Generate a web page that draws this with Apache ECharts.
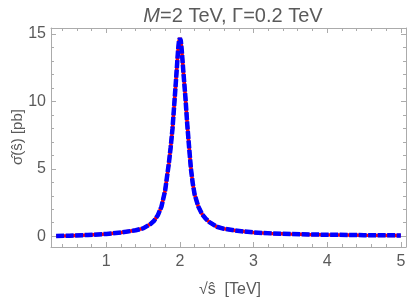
<!DOCTYPE html>
<html>
<head>
<meta charset="utf-8">
<script src="https://cdn.jsdelivr.net/npm/echarts@6/dist/echarts.min.js"></script>
<style>html,body{margin:0;padding:0;background:#fff;}#c{width:409px;height:303px;}</style>
</head>
<body>
<div id="c"></div>
<script>
// sqrt(s-hat) in TeV
const sqrtS = [0.32,0.5,0.75,1.0,1.2,1.4,1.5,1.6,1.65,1.7,1.75,1.8,1.825,1.85,1.875,1.9,1.925,1.95,1.975,1.9875,2.0,2.0125,2.025,2.05,2.075,2.1,2.125,2.15,2.175,2.2,2.25,2.3,2.35,2.4,2.5,2.6,2.75,3.0,3.25,3.5,3.75,4.0,4.5,5.0];
// sigma-hat in pb (red solid and blue dashed curves coincide)
const sigmaRed = [0.02,0.04,0.09,0.17,0.27,0.44,0.58,0.9,1.15,1.55,2.2,3.4,4.4,5.4,6.6,8.0,9.9,11.8,13.8,14.5,14.7,14.5,13.8,12.0,10.3,8.3,6.6,5.0,3.9,3.1,2.2,1.65,1.3,1.05,0.7,0.55,0.42,0.28,0.21,0.16,0.13,0.11,0.08,0.06];
const sigmaBlue = [0.02,0.04,0.09,0.17,0.27,0.44,0.58,0.9,1.15,1.55,2.2,3.4,4.4,5.4,6.6,8.0,9.9,11.8,13.8,14.5,14.7,14.5,13.8,12.0,10.3,8.3,6.6,5.0,3.9,3.1,2.2,1.65,1.3,1.05,0.7,0.55,0.42,0.28,0.21,0.16,0.13,0.11,0.08,0.06];
const xMajor = [1,2,3,4,5];
const xMinor = [0.4,0.6,0.8,1.2,1.4,1.6,1.8,2.2,2.4,2.6,2.8,3.2,3.4,3.6,3.8,4.2,4.4,4.6,4.8];
const yMajor = [0,5,10,15];
const yMinor = [1,2,3,4,6,7,8,9,11,12,13,14];

const X_MIN = 0.25, X_MAX = 5.07, Y_MIN = -0.8, Y_MAX = 15.45;
const FRAME = '#ababab';
const LABEL = '#5a5a5a';
const FONT = 'Liberation Sans';

function xAx(pos, ticks, len, showLine, showLabel) {
  return {
    type: 'value', position: pos, min: X_MIN, max: X_MAX,
    axisLine: {show: showLine, onZero: false, lineStyle: {color: FRAME, width: 1}},
    axisTick: {show: true, inside: true, length: len, customValues: ticks, lineStyle: {color: FRAME, width: 1}},
    axisLabel: {show: showLabel, customValues: ticks, color: LABEL, fontSize: 16, fontFamily: FONT, margin: 7},
    splitLine: {show: false}
  };
}
function yAx(pos, ticks, len, showLine, showLabel) {
  return {
    type: 'value', position: pos, min: Y_MIN, max: Y_MAX,
    axisLine: {show: showLine, onZero: false, lineStyle: {color: FRAME, width: 1}},
    axisTick: {show: true, inside: true, length: len, customValues: ticks, lineStyle: {color: FRAME, width: 1}},
    axisLabel: {show: showLabel, customValues: ticks, color: LABEL, fontSize: 16, fontFamily: FONT, margin: 5},
    splitLine: {show: false}
  };
}

const xAxes = [
  xAx('bottom', xMajor, 5, true, true),
  xAx('bottom', xMinor, 3, false, false),
  xAx('top', xMajor, 5, true, false),
  xAx('top', xMinor, 3, false, false)
];
const yAxes = [
  yAx('left', yMajor, 5, true, true),
  yAx('left', yMinor, 3, false, false),
  yAx('right', yMajor, 5, true, false),
  yAx('right', yMinor, 3, false, false)
];

const redData = sqrtS.map((x, i) => [x, sigmaRed[i]]);
const blueData = sqrtS.map((x, i) => [x, sigmaBlue[i]]);

const chart = echarts.init(document.getElementById('c'), null, {renderer: 'canvas'});
chart.setOption({
  animation: false,
  backgroundColor: '#fff',
  grid: {left: 51, right: 3, top: 28, bottom: 56, containLabel: false},
  title: {
    text: '{i|M}=2 TeV, Γ=0.2 TeV',
    left: 228, top: 1, textAlign: 'center',
    textStyle: {
      color: LABEL, fontSize: 20, fontWeight: 'normal', fontFamily: FONT,
      rich: {i: {fontStyle: 'italic', color: LABEL, fontSize: 20, fontFamily: FONT}}
    }
  },
  xAxis: xAxes,
  yAxis: yAxes,
  graphic: [
    {type: 'text', x: 230, y: 290, style: {text: '√ŝ  [TeV]', fill: LABEL, font: '16px "Liberation Sans"', align: 'center', verticalAlign: 'middle'}},
    {type: 'text', x: 18, y: 137, rotation: Math.PI / 2, style: {text: 'σ̂(ŝ) [pb]', fill: LABEL, font: '15px "Liberation Sans"', align: 'center', verticalAlign: 'middle'}}
  ],
  series: [
    {type: 'line', name: 'red', xAxisIndex: 0, yAxisIndex: 0, data: redData, showSymbol: false, symbol: 'none',
     lineStyle: {color: '#ff0000', width: 3.5}, z: 2},
    {type: 'line', name: 'blue', xAxisIndex: 0, yAxisIndex: 0, data: blueData, showSymbol: false, symbol: 'none',
     lineStyle: {color: '#0000ff', width: 4.5, type: [8, 1.5]}, z: 3}
  ]
});
</script>
</body>
</html>
